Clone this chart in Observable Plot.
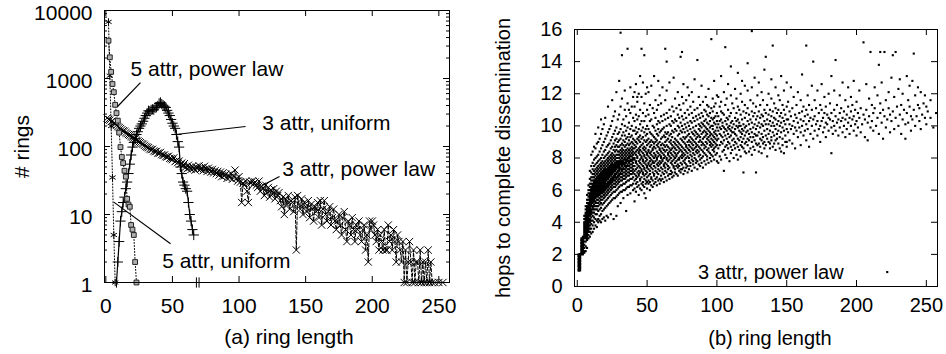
<!DOCTYPE html>
<html><head><meta charset="utf-8">
<script src="https://cdn.jsdelivr.net/npm/d3@7"></script>
<script src="https://cdn.jsdelivr.net/npm/@observablehq/plot@0.6"></script>
<style>
body{margin:0;background:#fff;}
#wrap{position:relative;width:946px;height:354px;overflow:hidden;background:#fff;}
#a,#b{position:absolute;top:0;}
#a{left:0}
#b{left:480px}
</style></head><body>
<div id="wrap"><div id="a"></div><div id="b"></div></div>
<script>
// ---------- Panel (a): number of rings vs ring length ----------
const fiveAttrPowerLaw = [[2,3600],[3,2050],[4,1250],[5,830],[6,630],[7,410],[8,310],[9,240],[10,160],[11,98],[12,70],[13,57],[14,44],[15,36],[16,17],[17,14],[18,13],[19,7],[20,6],[21,5],[22,2],[23,1]];
const fiveAttrUniform = [[2,6800],[3,1100],[4,200],[5,35],[6,5],[7,1]];
const threeAttrUniform = [[8,1],[9,2],[10,4],[11,8],[12,11],[13,15],[14,18],[15,24],[16,30],[17,40],[18,55],[19,75],[20,98],[21,115],[22,130],[23,150],[24,165],[25,185],[26,200],[27,215],[28,235],[29,260],[30,285],[31,310],[32,335],[33,330],[34,345],[35,352],[36,348],[37,372],[38,378],[39,395],[40,430],[41,445],[42,420],[43,405],[44,390],[45,375],[46,340],[47,310],[48,285],[49,250],[50,220],[51,200],[52,185],[53,150],[54,118],[55,98],[56,50],[57,40],[58,30],[59,27],[60,24],[61,22],[62,15],[63,10],[64,8],[65,6],[66,5],[67,null],[68,1],[69,null],[70,1]];
// counts for ring length 1, 2, 3, ... (null = no ring of that length)
const threeAttrPowerLaw = [
262,250,245,232,238,221,214,205,196,190,
183,176,170,168,160,155,150,146,141,137,
133,130,124,121,117,114,110,108,104,100,
98,96,92,90,91,86,84,85,80,79,
82,76,74,75,71,70,72,67,66,64,
68,60,62,58,61,55,57,52,56,50,
47,53,49,46,51,48,45,50,47,52,
46,49,44,51,47,43,48,45,42,46,
41,44,40,43,38,42,36,41,37,39,
34,38,35,40,33,37,45,34,31,36,
30,15,29,27,31,22,15,30,29,31,
28,30,27,25,31,22,26,24,19,27,
21,25,18,23,20,24,17,22,19,21,
16,13,18,10,17,14,19,12,16,15,
11,18,3,19,14,12,17,10,15,13,
11,16,9,14,12,8,13,11,15,9,
16,7,12,16,10,8,11,13,7,9,
12,8,6,8,10,7,5,9,11,6,
4,8,7,5,9,6,4,7,6,8,
5,4,6,7,3,5,2,8,6,8,
7,5,4,6,3,5,4,3,6,3,
3,7,4,5,3,6,4,2,5,4,
3,2,4,1,3,1,2,4,2,1,
3,1,2,2,1,3,1,2,1,2,
1,3,1,2,1,null,1,null,null,1,
null,null,1];
const xTicksA = [0,50,100,150,200,250];
const yTicksA = [1,10,100,1000,10000];
const yMinorA = [2,3,4,5,6,7,8,9,20,30,40,50,60,70,80,90,200,300,400,500,600,700,800,900,2000,3000,4000,5000,6000,7000,8000,9000];
const notesA = [
  {text:"5 attr, power law", x:18.5, y:1350},
  {text:"3 attr, uniform", x:117.4, y:221},
  {text:"3 attr, power law", x:132.4, y:46.5},
  {text:"5 attr, uniform", x:42.3, y:2.08}
];
const pointersA = [
  {x1:26.0, y1:870, x2:8.8, y2:387},
  {x1:104.9, y1:197, x2:52.3, y2:150},
  {x1:130.4, y1:36.2, x2:117.4, y2:26.7},
  {x1:48.6, y1:3.71, x2:6.0, y2:15.2}
];

// ---------- Panel (b): hops vs ring length (hops in tenths, per ring length) ----------
const hopsByLength = [
"1:10 11 12 13 14 15 16 17 18 19 20 10 13 15 17 19",
"2:10 11 12 13 14 15 16 17 18 19 20 12 14 16 18 20",
"3:20 21 22 23 24 25 26 27 28 29 30 21 23 25 27 29",
"4:20 21 22 23 24 25 26 27 28 29 30 22 24 26 28 30 31",
"5:21 22 24 26 28 30 31 32 33 34 35 36 37 38 39 40 42 44",
"6:22 25 28 30 31 32 33 34 35 36 37 38 39 40 41 42 43 44 45 46 48 50",
"7:24 29 30 31 32 33 34 35 36 37 38 39 40 41 42 43 44 45 46 47 48 49 50 52 54 57",
"8:30 32 34 35 36 37 38 39 40 41 42 43 44 45 46 47 48 49 50 51 52 54 56 58 60 63",
"9:31 34 36 38 40 41 42 44 45 46 47 48 49 50 51 52 53 54 55 56 57 58 60 62 64 67 72",
"10:33 36 39 41 43 45 46 47 48 50 51 52 53 54 55 56 57 58 59 60 61 62 64 66 68 71 75 82",
"11:34 38 41 44 46 48 49 50 52 53 54 55 56 57 58 59 60 61 62 63 64 66 68 70 73 77 84",
"12:36 40 43 46 48 50 51 53 54 55 56 57 58 59 60 61 62 63 64 65 66 68 70 72 75 79 87",
"13:38 42 45 48 50 52 53 55 56 57 58 59 60 61 62 63 64 65 66 67 69 71 73 76 80 86 95",
"14:37 41 45 48 50 52 54 56 57 58 59 60 61 62 63 64 65 66 67 68 70 72 74 77 81 89",
"15:40 42 47 50 52 54 56 57 58 59 60 61 62 63 64 65 66 67 68 69 71 73 75 78 82 90 99",
"16:41 44 48 51 53 55 57 58 59 60 61 62 63 64 65 66 67 68 69 70 72 74 76 79 84 92",
"17:40 45 49 52 54 56 58 59 60 61 62 63 64 65 66 67 68 69 70 71 73 75 77 80 86 95 104",
"18:42 47 51 54 56 58 59 60 61 62 63 64 65 66 67 68 69 70 71 72 74 76 78 82 88 98",
"19:43 48 52 55 57 59 60 61 62 63 64 65 66 67 68 69 70 71 72 73 75 77 80 84 90 101",
"20:41 49 53 56 58 60 61 62 63 64 65 66 67 68 69 70 71 72 73 74 76 78 81 85 92 105",
"21:44 50 54 57 59 61 62 63 64 66 67 68 69 70 71 72 73 75 77 79 82 87 94",
"22:43 51 55 58 60 62 63 64 65 67 68 69 70 71 72 73 74 76 78 80 83 88 96 112",
"23:52 56 59 61 63 64 65 66 68 69 70 71 72 73 74 75 77 79 81 84 89 98",
"24:45 53 57 60 62 64 65 66 67 69 70 71 72 73 74 75 76 78 80 82 86 91 100",
"25:54 58 61 63 65 66 67 68 70 71 72 73 74 75 76 77 79 81 83 87 93 103 116",
"26:42 55 59 62 64 66 67 68 69 71 72 73 74 75 76 78 80 82 85 89 95 106",
"27:55 59 62 64 66 68 69 70 72 73 74 75 76 77 79 81 84 87 91 97 109",
"28:44 56 60 63 65 67 68 70 71 73 74 75 76 77 78 80 82 85 88 92 99 121",
"29:50 57 61 64 66 68 69 71 72 74 75 76 77 78 80 82 84 87 90 95 104",
"30:58 62 65 67 69 70 72 73 74 75 76 77 78 80 82 84 87 91 96 107 128",
"31:52 59 63 66 68 70 71 73 74 76 77 78 79 81 83 85 88 92 98 112 158",
"32:59 63 66 68 70 72 73 75 76 77 78 80 82 84 86 89 94 101 117 144",
"33:55 60 64 67 69 71 73 74 76 77 78 79 81 83 85 88 91 96 104",
"34:60 64 67 69 71 73 75 76 77 79 80 82 84 87 90 94 100 110 122",
"35:47 61 65 68 70 72 74 75 77 78 79 81 83 85 88 92 97 106",
"36:57 62 66 69 71 73 75 76 78 79 80 82 84 86 89 93 99 114 148",
"37:62 66 69 71 73 75 77 78 80 81 83 85 88 91 95 102 110",
"38:58 63 67 70 72 74 76 78 79 81 82 84 86 89 93 98 108 124",
"39:63 67 70 72 74 76 78 79 81 83 85 87 90 94 100 112",
"40:60 64 68 71 73 75 77 79 80 82 84 86 89 92 97 105 118",
"41:53 61 66 70 72 75 79 80 83 86 88 91 97 103 112 121",
"42:59 64 67 69 73 77 78 82 84 87 90 95 99 107 126",
"43:62 65 68 71 74 76 80 81 85 89 92 96 104 115 118",
"44:57 63 69 70 72 75 78 83 84 86 91 93 98 106 120",
"45:61 66 67 71 74 77 79 82 85 87 90 94 101 110 131",
"46:60 64 68 72 73 76 80 81 84 88 92 97 103 118 148",
"47:63 65 70 71 75 78 79 83 86 89 93 99 108 127",
"48:58 62 67 69 73 74 77 81 82 85 87 91 96 103 114 144",
"49:55 64 66 70 72 76 78 80 84 86 90 94 98 106 120",
"50:61 65 68 71 74 75 79 82 83 88 91 95 100 110 124",
"51:64 66 69 73 76 77 81 84 85 89 92 98 107 121",
"52:60 65 70 72 75 78 80 83 87 90 96 103 113",
"53:63 67 68 74 76 79 82 84 88 91 95 104 125",
"54:62 66 71 73 77 78 81 85 86 90 94 100 111",
"55:64 69 70 75 77 80 83 87 89 93 99 108 131",
"56:65 67 72 74 78 81 82 86 90 92 97 105 116",
"57:63 68 71 76 79 80 84 88 91 95 101 110",
"58:66 70 73 75 77 81 83 87 89 94 98 103 113 128",
"59:64 67 72 76 78 82 85 86 90 96 102 119",
"60:66 69 74 77 80 81 84 88 92 97 106 114",
"61:67 71 73 78 79 83 86 89 93 98 103 124",
"62:65 70 75 76 80 82 85 88 94 99 107",
"63:68 72 74 77 81 84 87 90 93 96 104 116 148",
"64:66 71 76 79 80 85 88 91 95 100 108 122 140",
"65:69 73 75 78 82 83 87 92 96 105",
"66:67 70 74 79 81 84 86 90 94 101 110 127",
"67:70 72 77 80 83 85 89 91 95 100 106",
"68:68 71 76 78 82 86 88 93 97 103 112",
"69:69 74 75 79 81 84 87 90 96 102 109 130",
"70:71 73 77 80 83 86 89 92 98 104 117",
"71:70 75 78 81 82 85 88 91 97 103 111",
"72:69 74 76 79 83 87 90 94 100 107 121",
"73:72 75 79 80 84 86 89 95 99 105 113",
"74:71 73 77 81 85 88 92 97 102 110 143",
"75:73 76 80 82 84 87 91 96 100 106 118 146",
"76:70 74 78 81 83 86 90 93 98 104 114 126",
"77:72 77 79 82 85 89 92 96 101 108",
"78:74 76 80 84 87 88 93 99 105 116",
"79:71 75 81 83 86 90 94 97 102 110 124",
"80:73 78 80 85 88 91 95 100 107 119",
"81:75 77 82 84 87 90 93 98 103 112",
"82:72 79 81 86 89 92 96 102 108 121",
"83:76 78 83 85 88 91 95 99 105 115",
"84:74 80 82 86 90 94 97 103 110 129",
"85:77 79 84 87 89 92 96 100 106",
"86:73 78 83 85 88 93 95 104 111 141",
"87:76 81 84 87 90 94 98 101 107 118",
"88:75 79 82 86 91 93 97 100 105 113",
"89:77 80 85 88 90 95 99 102 108 125",
"90:74 81 84 89 92 96 101 106 115",
"91:78 83 86 88 93 97 100 103 110",
"92:76 82 87 90 94 96 99 104 109 118",
"93:79 81 85 89 92 95 98 102 107 113",
"94:77 84 86 91 93 97 101 106 112 123",
"95:80 83 88 90 94 96 99 103 108",
"96:78 82 87 89 92 95 100 105 111 154",
"97:81 85 88 91 94 98 100 104 109 117",
"98:79 84 86 90 93 96 102 105 112 128",
"99:82 87 89 92 95 97 101 106 114",
"100:78 83 88 91 94 99 103 108 119",
"101:77 86 92 97 101 106 118","102:81 88 95 99 103 112","103:79 90 94 98 104 109 115 131","104:84 89 93 100 102 108",
"105:72 85 91 96 99 107 121","106:82 87 94 98 103 113 149","107:80 88 92 97 101 105 117","108:86 90 95 99 104 110 126",
"109:78 89 93 98 100 106","110:83 87 94 97 102 108 119 137","111:85 91 96 99 103 114","112:80 88 92 96 101 111",
"113:86 90 95 98 105 123","114:82 89 94 100 103 108 117","115:79 87 92 99 104 112 133","116:85 91 97 100 102 110",
"117:81 88 93 96 100 107 120","118:87 90 95 98 104 115 128","119:71 86 92 97 101 109","120:84 89 94 99 105 113 125",
"121:83 90 96 100 108","122:88 92 97 103 111 122 139","123:84 91 95 101 107","124:86 93 98 104 116",
"125:82 90 96 102 109 124 159","126:87 93 99 106 114","127:85 91 95 101 108 130","128:71 89 94 98 104 112",
"129:88 94 100 106 119","130:84 89 96 102 109 127","131:87 92 99 105 113","132:83 91 95 101 107 121",
"133:89 93 100 106 116","134:86 90 97 103 110 135","135:88 94 101 108 143","136:81 92 98 104 113",
"137:90 95 101 107 120","138:86 89 97 103 110","139:91 93 100 106 117 129","140:87 96 102 109 150",
"141:89 94 100 105 114","142:85 91 98 104 111 124","143:92 95 101 108","144:89 97 103 110 119",
"145:86 93 100 106 116","146:84 96 102 108 131","147:88 92 99 105 113","148:83 97 103 110 122",
"149:90 94 101 107","150:87 90 98 104 112 127",
"151:96 104 115","152:91 101 109","153:98 106 124","154:89 100 111","155:95 103 118",
"156:86 99 107","157:97 105 113","158:93 102 121","159:99 108","160:88 96 104 116",
"161:100 109 132","162:94 103 112","163:97 106","164:91 101 110 150","165:98 107 119",
"166:87 103 113","167:95 105","168:100 110 125","169:92 104 140","170:97 106 116",
"171:101 111","172:94 103 122","173:98 108","174:90 100 113","175:103 110 126",
"176:96 105","177:99 108 118","178:93 102 112","179:101 107","180:97 105 120",
"181:104 114","182:83 99 108 131","183:95 103","184:100 110 122","185:97 106 141",
"186:102 113","187:94 104","188:99 108 119","189:103 111","190:96 105 127",
"191:100 109","192:93 104 116","193:98 107","194:102 112 124","195:95 105",
"196:100 109 118","197:104 113","198:97 106 128","199:101 110","200:94 103 115",
"201:99 108","202:105 122","203:96 111","204:101","205:107 152","206:93 104",
"207:110 126","208:91 102","209:106 117","210:99 146","211:103 113","212:97 108",
"213:111 124","214:100","215:105 119","216:95 138","217:108 114 146","218:102 127",
"219:92 110","220:106 146","221:99 116","222:9 104","223:111 121","224:96 107",
"225:103 130","226:109 144","227:98 118","228:105 146","229:112","230:100 123",
"231:107 129","232:95 113","233:104 120","234:110","235:92 101","236:108 131",
"237:102 116","238:112 125","239:97 106","240:104 128","241:110 145","242:100 119",
"243:106","244:113 124","245:103 111","246:98 121","247:107","248:114",
"249:105 119","250:101 112","251:109","253:105 116","255:99","257:108"
];
const xTicksB = [0,50,100,150,200,250];
const yTicksB = [0,2,4,6,8,10,12,14,16];
const notesB = [{text:"3 attr, power law", x:86.5, y:0.88}];

// ---------- build tables ----------
const tD = threeAttrPowerLaw.map((v,i) => [i+1, v]);
const scatter = hopsByLength.flatMap(s => {
  const [len, ys] = s.split(":");
  return ys.trim().split(/\s+/).map(h => ({len:+len, hops:+h/10}));
});

const FONT = "'Liberation Sans', Arial, Helvetica, sans-serif";
const X = d => d[0], Y = d => d[1];

// ---------- Panel (a) ----------
const fhA = 272, fwA = 345;
const plotA = Plot.plot({
  width: 480, height: 354,
  marginLeft: 104, marginRight: 31, marginTop: 10, marginBottom: 72,
  style: {fontFamily: FONT, fontSize: "21px", background: "white", color: "black", overflow: "visible"},
  x: {domain: [-1, 258]},
  y: {type: "log", domain: [1, 10000]},
  marks: [
    Plot.line(fiveAttrPowerLaw, {x: X, y: Y, stroke: "black", strokeWidth: 1, strokeDasharray: "1,2"}),
    Plot.line(fiveAttrUniform, {x: X, y: Y, stroke: "black", strokeWidth: 1, strokeDasharray: "1,2"}),
    Plot.line(threeAttrUniform, {x: X, y: Y, stroke: "black", strokeWidth: 1.2}),
    Plot.line(tD, {x: X, y: Y, stroke: "black", strokeWidth: 1, strokeDasharray: "3,2"}),
    Plot.dot(tD, {x: X, y: Y, symbol: "times", r: 3.4, stroke: "black", strokeWidth: 1}),
    Plot.dot(threeAttrUniform, {x: X, y: Y, symbol: "plus", r: 3.4, stroke: "black", strokeWidth: 1}),
    Plot.dot(fiveAttrUniform, {x: X, y: Y, symbol: "asterisk", r: 3.4, stroke: "black", strokeWidth: 1}),
    Plot.dot(fiveAttrPowerLaw, {x: X, y: Y, symbol: "square", r: 2.7, fill: "#b0b0b0", stroke: "#222", strokeWidth: 1}),
    Plot.frame({stroke: "black"}),
    Plot.tickX(xTicksA, {x: d => d, insetTop: fhA - 6, stroke: "black"}),
    Plot.tickX(xTicksA, {x: d => d, insetBottom: fhA - 6, stroke: "black"}),
    Plot.tickY(yTicksA, {y: d => d, insetRight: fwA - 6, stroke: "black"}),
    Plot.tickY(yTicksA, {y: d => d, insetLeft: fwA - 6, stroke: "black"}),
    Plot.tickY(yMinorA, {y: d => d, insetRight: fwA - 3, stroke: "black"}),
    Plot.tickY(yMinorA, {y: d => d, insetLeft: fwA - 3, stroke: "black"}),
    Plot.axisX({ticks: xTicksA, tickSize: 0, tickPadding: 16, label: null, tickFormat: d => String(d)}),
    Plot.axisY({ticks: yTicksA, tickSize: 0, tickPadding: 12, label: null, tickFormat: d => String(d), dy: 2.5}),
    Plot.link(pointersA, {x1: "x1", y1: "y1", x2: "x2", y2: "y2", stroke: "black", strokeWidth: 1.2}),
    Plot.text(notesA, {x: "x", y: "y", text: "text", textAnchor: "start", lineAnchor: "middle", fill: "black"}),
    Plot.text(["(a) ring length"], {text: d => d, frameAnchor: "bottom", textAnchor: "middle", dx: 12, dy: 55, lineAnchor: "middle", fill: "black"}),
    Plot.text(["# rings"], {text: d => d, frameAnchor: "left", textAnchor: "middle", rotate: -90, dx: -82, lineAnchor: "middle", fill: "black"})
  ]
});
document.getElementById("a").appendChild(plotA);

// ---------- Panel (b) ----------
const fhB = 257, fwB = 363;
const plotB = Plot.plot({
  width: 466, height: 354,
  marginLeft: 94, marginRight: 9, marginTop: 29, marginBottom: 68,
  style: {fontFamily: FONT, fontSize: "20px", background: "white", color: "black", overflow: "visible"},
  x: {domain: [-2, 258]},
  y: {domain: [0, 16]},
  marks: [
    Plot.dot(scatter, {x: "len", y: "hops", symbol: "square", r: 1.2, fill: "black"}),
    Plot.frame({stroke: "black"}),
    Plot.tickX(xTicksB, {x: d => d, insetTop: fhB - 6, stroke: "black"}),
    Plot.tickX(xTicksB, {x: d => d, insetBottom: fhB - 6, stroke: "black"}),
    Plot.tickY(yTicksB, {y: d => d, insetRight: fwB - 6, stroke: "black"}),
    Plot.tickY(yTicksB, {y: d => d, insetLeft: fwB - 6, stroke: "black"}),
    Plot.axisX({ticks: xTicksB, tickSize: 0, tickPadding: 11, label: null, tickFormat: d => String(d)}),
    Plot.axisY({ticks: yTicksB, tickSize: 0, tickPadding: 12, label: null, tickFormat: d => String(d)}),
    Plot.text(notesB, {x: "x", y: "y", text: "text", textAnchor: "start", lineAnchor: "middle", fill: "black"}),
    Plot.text(["(b) ring length"], {text: d => d, frameAnchor: "bottom", textAnchor: "middle", dx: 14, dy: 52, lineAnchor: "middle", fill: "black"}),
    Plot.text(["hops to complete dissemination"], {text: d => d, frameAnchor: "left", textAnchor: "middle", rotate: -90, dx: -71, lineAnchor: "middle", fill: "black"})
  ]
});
document.getElementById("b").appendChild(plotB);
</script>
</body></html>
